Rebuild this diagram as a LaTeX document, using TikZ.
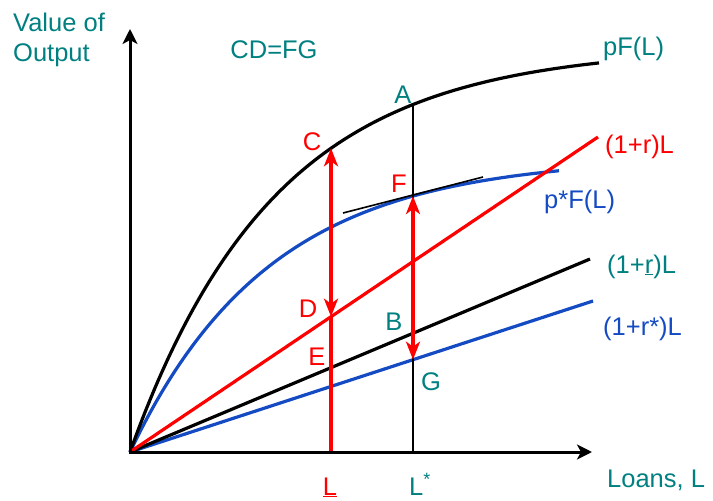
\documentclass[tikz,border=0pt]{standalone}
\usepackage{fontspec}
\setmainfont{Liberation Sans}
\usetikzlibrary{arrows.meta,intersections}
\definecolor{tealc}{RGB}{0,128,128}
\definecolor{bluc}{RGB}{20,75,195}
\definecolor{redc}{RGB}{255,0,0}
\begin{document}
\begin{tikzpicture}[x=1pt,y=-1pt, font=\fontsize{25.5}{30}\selectfont,
  lbl/.style={inner sep=0pt, anchor=base},
  lblw/.style={inner sep=0pt, anchor=base west},
  axisline/.style={line width=3pt, arrows={Stealth[length=15pt,width=15pt,inset=4pt]-Stealth[length=15pt,width=15pt,inset=4pt]}},
  curve/.style={line width=3.2pt},
  thinline/.style={line width=1.6pt},
  redv/.style={draw=redc, line width=4.5pt},
  tipstwo/.style={arrows={Stealth[length=18pt,width=14pt,inset=5pt]-Stealth[length=18pt,width=14pt,inset=5pt]}}]
\useasboundingbox (0,0) rectangle (713,501);

\coordinate (O) at (130,452);
\coordinate (Ytop) at (130,29);
\coordinate (Xend) at (592,452);
\coordinate (kEnd) at (590,259);
\coordinate (bEnd) at (593,301);
\coordinate (rEnd) at (598,137);
\coordinate (Lb) at (331,452);
\coordinate (Ls) at (413,452);
\coordinate (t1) at (343,213);
\coordinate (t2) at (483,177);

\path[name path=vL] (331,0) -- (331,460);
\path[name path=vS] (413,0) -- (413,460);

% curves
\draw[curve, bluc, name path=bcurve] plot[domain=0:429, samples=150] ({130+\x},{452-295*(1-exp(-\x/140))});
\draw[curve, black, name path=kcurve] plot[domain=0:469, samples=150] ({130+\x},{452-405*(1-exp(-\x/145))});
% straight lines
\draw[curve, bluc, name path=bline] (O) -- (bEnd);
\draw[curve, black, name path=kline] (O) -- (kEnd);
\draw[curve, redc, name path=rline] (O) -- (rEnd);

\path[name intersections={of=vS and kcurve, by=A}];
\path[name intersections={of=vL and kcurve, by=C}];
\path[name intersections={of=vS and bcurve, by=F}];
\path[name intersections={of=vL and rline, by=D}];
\path[name intersections={of=vS and bline, by=G}];

% tangent and vertical at L*
\draw[thinline] (t1) -- (t2);
\draw[thinline] (A) -- (Ls);

% red verticals
\draw[redv] (D) -- (Lb);
\draw[redv, tipstwo] (D) -- (C);
\draw[redv, tipstwo] (G) -- (F);

% axes
\draw[axisline] (Ytop) -- (O) -- (Xend);

% labels
\node[inner sep=0pt, anchor=north west, align=left, text=tealc] (yl) at (13,12.5) {Value of\\Output};
\node[lbl, text=tealc] (cdfg) at (274,58) {CD=FG};
\node[lblw, text=tealc] (pfl) at (603,55) {pF(L)};
\node[lblw, text=redc] (rl) at (605,153) {(1+r)L};
\node[lblw, text=bluc] (psfl) at (544,208) {p*F(L)};
\node[lblw, text=tealc] (rbl) at (607,273) {(1+\underline{r})L};
\node[lblw, text=bluc] (rsl) at (603,335) {(1+r*)L};
\node[lblw, text=tealc] (loans) at (607,487) {Loans, L};
\node[lbl, text=tealc] (la) at (403,103) {A};
\node[lbl, text=redc] (lc) at (312,150) {C};
\node[lbl, text=redc] (lf) at (399,192) {F};
\node[lbl, text=redc] (ld) at (308,317) {D};
\node[lbl, text=redc] (le) at (317,365) {E};
\node[lbl, text=tealc] (lb) at (394,330) {B};
\node[lbl, text=tealc] (lg) at (431,390) {G};
\node[lbl, text=redc] (lbar) at (330,495) {\underline{L}};
\node[lblw, text=tealc] (lstar) at (409,495) {L\textsuperscript{*}};
\end{tikzpicture}
\end{document}
